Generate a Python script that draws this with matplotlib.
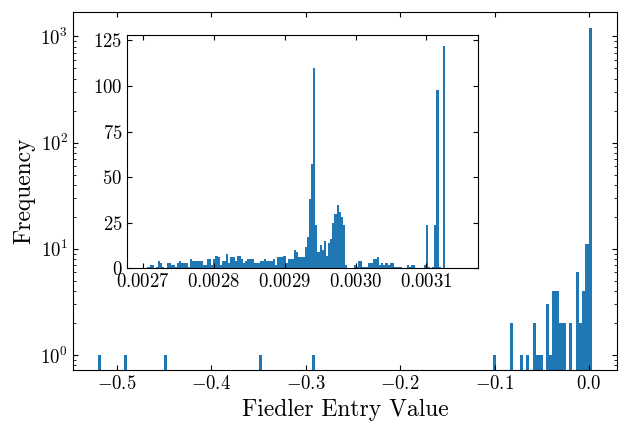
import numpy as np
import matplotlib
matplotlib.use("Agg")
import matplotlib.pyplot as plt

plt.rcParams['font.family'] = 'serif'
plt.rcParams['font.serif'] = ['cmr10']
plt.rcParams['mathtext.fontset'] = 'cm'
plt.rcParams['axes.formatter.use_mathtext'] = True

# main histogram: values of the bins that are not empty, and their counts
main_lo, main_hi, main_nbins = -0.5205, 0.00315, 150
main_vals = [-0.5188, -0.4908, -0.4489, -0.3477, -0.2918, -0.0998, -0.0823,
             -0.0719, -0.0649, -0.0579, -0.0544, -0.0509, -0.0439, -0.0404,
             -0.0369, -0.0335, -0.0300, -0.0265, -0.0195, -0.0125, -0.0091,
             -0.0056, -0.0021, 0.0014]
main_counts = [1, 1, 1, 1, 1, 1, 2,
               1, 1, 2, 1, 1, 3, 1,
               4, 4, 2, 2, 2, 6, 2,
               4, 11, 1205]

# zoomed histogram of the entries between 0.0027 and 0.00315
inset_lo, inset_hi = 0.0027, 0.00315
inset_counts = [
    0, 0, 1, 2, 2, 0, 1, 4, 3, 1,
    0, 3, 3, 2, 2, 1, 3, 4, 3, 3,
    3, 1, 5, 4, 4, 4, 4, 4, 2, 2,
    5, 5, 2, 5, 7, 6, 2, 4, 4, 8,
    3, 6, 6, 4, 7, 7, 5, 3, 4, 5,
    5, 5, 3, 3, 3, 4, 4, 5, 4, 4,
    4, 5, 2, 6, 6, 6, 7, 3, 5, 5,
    5, 10, 9, 6, 6, 6, 12, 17, 38, 57,
    110, 24, 9, 13, 10, 15, 7, 14, 16, 25,
    30, 35, 31, 28, 24, 2, 0, 0, 0, 2,
    1, 4, 4, 1, 1, 1, 3, 3, 5, 5,
    6, 2, 3, 2, 3, 2, 3, 3, 1, 1,
    1, 1, 0, 0, 2, 1, 2, 2, 0, 0,
    0, 0, 2, 24, 1, 0, 1, 24, 98, 1,
    0, 122, 0, 0, 0, 0, 0, 0, 0, 0,
]

fig = plt.figure(figsize=(6.23, 4.24), dpi=100)
ax = fig.add_axes([0.117, 0.127, 0.873, 0.845])

main_edges = np.linspace(main_lo, main_hi, main_nbins + 1)
ax.hist(main_vals, bins=main_edges, weights=main_counts, log=True, color='#1f77b4')
ax.set_ylim(0.72, 1700)
ax.set_xlabel('Fiedler Entry Value', fontsize=17)
ax.set_ylabel('Frequency', fontsize=17)
ax.tick_params(axis='both', which='both', direction='in', top=True, right=True, labelsize=13.5)

# inset
axin = fig.add_axes([0.2043, 0.367, 0.5627, 0.551])
inset_edges = np.linspace(inset_lo, inset_hi, len(inset_counts) + 1)
axin.hist(inset_edges[:-1], bins=inset_edges, weights=inset_counts, color='#1f77b4')
axin.set_yticks([0, 25, 50, 75, 100, 125])
axin.set_xticks([0.0027, 0.0028, 0.0029, 0.0030, 0.0031])
axin.ticklabel_format(axis='x', useOffset=False, style='plain')
axin.tick_params(axis='both', which='both', direction='in', top=True, right=True, labelsize=13.5)

plt.savefig('out.png', dpi=100)
